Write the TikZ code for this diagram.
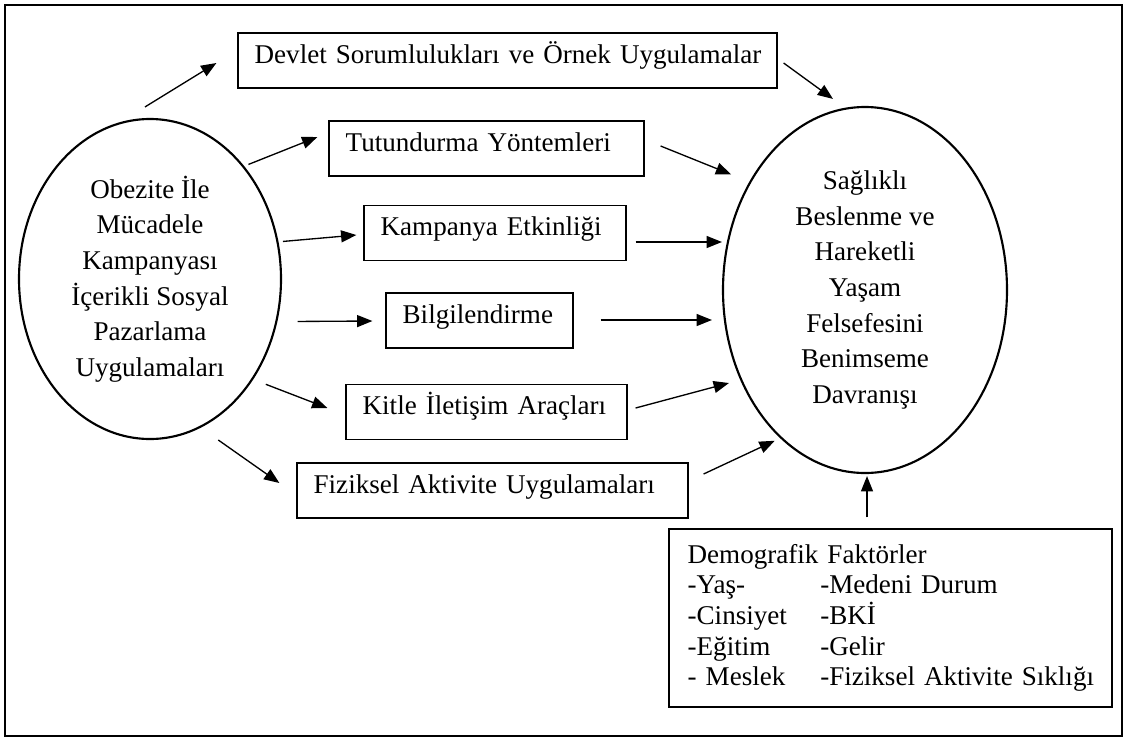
\documentclass[tikz,border=0pt]{standalone}
\usepackage{fontspec}
\setmainfont{Liberation Serif}
\usetikzlibrary{arrows.meta,calc,shapes.geometric}

\tikzset{
	kutu/.style={draw, line width=0.9pt, align=left, inner xsep=12.5pt, inner ysep=0pt, minimum height=41.25pt, text height=14pt, text depth=10pt, font=\fontsize{20.3}{26.7}\selectfont},
	liste/.style={draw, line width=0.9pt, align=left, inner xsep=14pt, minimum height=133.5pt, font=\fontsize{20.3}{23}\selectfont},
	elips/.style={draw, ellipse, line width=1.6pt, align=center, inner sep=0pt, font=\fontsize{20.3}{26.7}\selectfont},
	ok/.style={-{Triangle[length=11.5pt,width=9pt]}, line width=1pt},
}

\begin{document}
\begin{tikzpicture}[x=0.75pt, y=-0.75pt]
	\useasboundingbox (0,0) rectangle (1127,740);
	\draw[line width=2.2pt] (5,5) rectangle (1122,736);

	\node[elips, minimum width=196.5pt, minimum height=240pt] (obz) at (150,279) {Obezite İle\\Mücadele\\Kampanyası\\İçerikli Sosyal\\Pazarlama\\Uygulamaları};
	\node[elips, minimum width=213pt, minimum height=274.5pt] (sag) at (865,290) {Sağlıklı\\Beslenme ve\\Hareketli\\Yaşam\\Felsefesini\\Benimseme\\Davranışı};

	\node[kutu, text width=379.25pt] (devlet) at (507.5,60.5) {\mbox{Devlet Sorumlulukları ve Örnek Uygulamalar}};
	\node[kutu, text width=211.25pt] (tutund) at (486.5,148.5) {Tutundurma Yöntemleri};
	\node[kutu, text width=171.5pt] (kampanya) at (495,233) {Kampanya Etkinliği};
	\node[kutu, text width=115.25pt] (bilgi) at (479.5,320.5) {\mbox{Bilgilendirme}};
	\node[kutu, text width=185.75pt] (kitle) at (486.5,412) {Kitle İletişim Araçları};
	\node[kutu, text width=268.25pt] (fiz) at (492.5,490.5) {Fiziksel Aktivite Uygulamaları};

	\node[liste, text width=304.25pt] (demog) at (890.5,618) {Demografik Faktörler\\
		\mbox{\makebox[99.5pt][l]{-Yaş-}-Medeni Durum}\\
		\mbox{\makebox[99.5pt][l]{-Cinsiyet}-BKİ}\\
		\mbox{\makebox[99.5pt][l]{-Eğitim}-Gelir}\\
		\mbox{\makebox[99.5pt][l]{- Meslek}-Fiziksel Aktivite Sıklığı}};

	\draw[ok] ($(obz.north)+(-5,-11)$) -- ($(devlet.west)+(-21,2.5)$);
	\draw[ok] ($(obz.50)+(4,-2)$) -- ($(tutund.west)+(-11,-11.5)$);
	\draw[ok] ($(obz.15)+(4,-3)$) -- ($(kampanya.west)+(-7,2)$);
	\draw[ok] ($(obz.-18)+(20,1)$) -- ($(bilgi.west)+(-13,0.5)$);
	\draw[ok] ($(obz.-40)+(7,14)$) -- ($(kitle.west)+(-18,-4)$);
	\draw[ok] ($(obz.-65)+(3,21)$) -- ($(fiz.west)+(-17,-7.5)$);

	\draw[ok] ($(devlet.east)+(6,2.5)$) -- ($(sag.north)+(-32,-7)$);
	\draw[ok] ($(tutund.east)+(16,-2.5)$) -- ($(sag.140)+(-14,-15)$);
	\draw[ok] ($(kampanya.east)+(9,9)$) -- ($(sag.west)+(0,-48)$);
	\draw[ok] ($(bilgi.east)+(27,-0.5)$) -- ($(sag.west)+(-10,30)$);
	\draw[ok] ($(kitle.east)+(8,-4)$) -- ($(sag.west)+(7,93)$);
	\draw[ok] ($(fiz.east)+(15,-16.5)$) -- ($(sag.-120)+(-5,3)$);
	\draw[ok] ($(sag.south |- demog.north)+(2,-11)$) -- ($(sag.south)+(2,2)$);
\end{tikzpicture}
\end{document}
